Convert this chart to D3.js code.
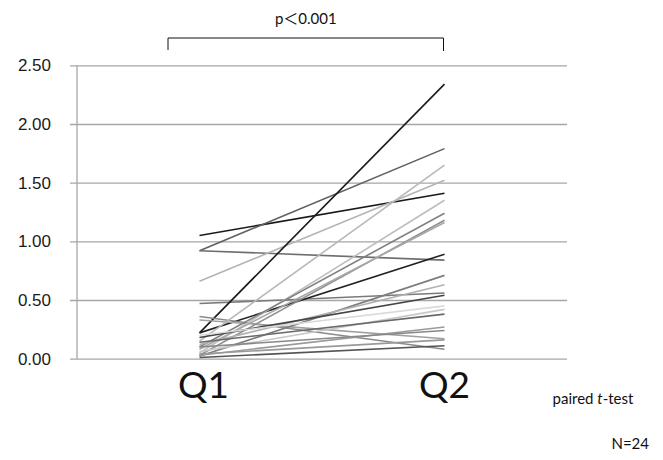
<!DOCTYPE html>
<html>
<head>
<meta charset="utf-8">
<script src="https://cdn.jsdelivr.net/npm/d3@7"></script>
<style>
  html, body { margin: 0; padding: 0; background: #fff; }
  svg { display: block; font-family: Lato, "Noto Sans", "Noto Sans CJK JP", sans-serif; }
</style>
</head>
<body>
<svg id="chart" width="663" height="460"></svg>
<script>
// ---- data ----
const categories = ["Q1", "Q2"];
const q1Values = [1.05, 0.92, 0.92, 0.66, 0.47, 0.22, 0.22, 0.36, 0.33, 0.01, 0.15, 0.05,
                  0.10, 0.03, 0.08, 0.02, 0.12, 0.18, 0.20, 0.06, 0.14, 0.03, 0.10, 0.04];
const q2Values = [1.41, 1.79, 0.84, 1.52, 0.56, 2.34, 0.89, 0.08, 0.17, 0.11, 1.65, 1.35,
                  1.24, 1.18, 1.16, 0.71, 0.63, 0.54, 0.45, 0.42, 0.38, 0.27, 0.24, 0.16];
const lineShades = ["#1a1a1a", "#606060", "#6e6e6e", "#b4b4b4", "#7a7a7a", "#1a1a1a", "#222222", "#8a8a8a",
                    "#a0a0a0", "#555555", "#b8b8b8", "#bdbdbd", "#808080", "#909090", "#a8a8a8", "#7d7d7d",
                    "#b0b0b0", "#444444", "#dadada", "#c8c8c8", "#6a6a6a", "#9a9a9a", "#888888", "#999999"];
const yTicks = [0, 0.5, 1.0, 1.5, 2.0, 2.5];
const pLabel = "p\uFF1C0.001";
const testLabel = ["paired ", "t", "-test"];
const nLabel = "N=24";

// ---- layout ----
const svg = d3.select("#chart");
const plot = { left: 77, right: 567, top: 65.3, bottom: 358.7 };

const x = d3.scaleBand().domain(categories).range([plot.left, plot.right]).padding(0);
const y = d3.scaleLinear().domain([0, 2.5]).range([plot.bottom, plot.top]);
const cx = c => x(c) + x.bandwidth() / 2;

// gridlines + y axis
const yAxis = d3.axisLeft(y).tickValues(yTicks).tickFormat(d3.format(".2f"))
  .tickSize(-(plot.right - plot.left)).tickPadding(20);
const gy = svg.append("g").attr("transform", `translate(${plot.left},0)`).call(yAxis);
gy.select(".domain").remove();
gy.selectAll(".tick line").attr("stroke", "#a6a6a6").attr("stroke-width", 1.3).attr("x1", -7);
gy.selectAll(".tick text").attr("fill", "#1a1a1a").attr("font-size", 17).attr("x", -26);
svg.append("line").attr("x1", plot.left).attr("x2", plot.left)
  .attr("y1", y(2.5)).attr("y2", y(0)).attr("stroke", "#a6a6a6").attr("stroke-width", 1.3);

// category labels
svg.append("g").selectAll("text").data(categories).join("text")
  .attr("x", d => cx(d) + (d === "Q1" ? 4 : 0)).attr("y", 398).attr("text-anchor", "middle")
  .attr("font-size", 37).attr("fill", "#111").text(d => d);

// lines
const pairs = q1Values.map((v, i) => ({ a: v, b: q2Values[i], c: lineShades[i] }));
svg.append("g").selectAll("line").data(pairs).join("line")
  .attr("x1", cx("Q1")).attr("x2", cx("Q2"))
  .attr("y1", d => y(d.a)).attr("y2", d => y(d.b))
  .attr("stroke", d => d.c).attr("stroke-width", 1.6);

// significance bracket
const bx1 = 168, bx2 = cx("Q2") - 1;
svg.append("path")
  .attr("d", `M${bx1},50 V38 H${bx2} V51`)
  .attr("fill", "none").attr("stroke", "#111").attr("stroke-width", 1);
svg.append("text").attr("x", (bx1 + bx2) / 2).attr("y", 24).attr("text-anchor", "middle")
  .attr("font-size", 15).attr("fill", "#111").text(pLabel);

// notes
const t = svg.append("text").attr("x", 593).attr("y", 404).attr("text-anchor", "middle")
  .attr("font-size", 15).attr("fill", "#111");
t.append("tspan").text(testLabel[0]);
t.append("tspan").attr("font-style", "italic").text(testLabel[1]);
t.append("tspan").text(testLabel[2]);
svg.append("text").attr("x", 649).attr("y", 449).attr("text-anchor", "end")
  .attr("font-size", 15).attr("fill", "#111").text(nLabel);
</script>
</body>
</html>
